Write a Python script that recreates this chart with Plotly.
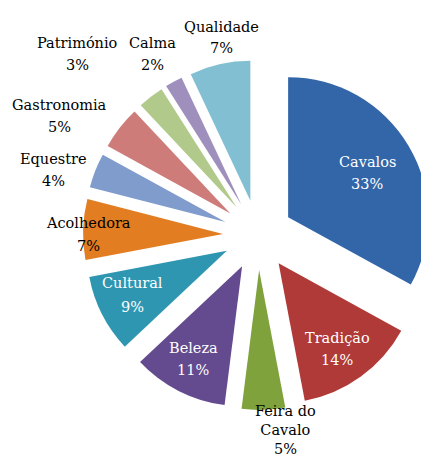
import plotly.graph_objects as go

labels = ["Cavalos", "Tradição", "Feira do<br>Cavalo", "Beleza", "Cultural",
          "Acolhedora", "Equestre", "Gastronomia", "Património", "Calma", "Qualidade"]
values = [33, 14, 5, 11, 9, 7, 4, 5, 3, 2, 7]
colors = ["#3366A8", "#B03A37", "#80A23C", "#644A8E", "#2F96B2",
          "#E27D22", "#809CCC", "#CE7C7A", "#B1CA8B", "#9E8FBD", "#82BFD3"]

# label placement: x centre, y of name line, y of percent line (pixels), text colour
label_x = [367, 337, 285, 193, 132, 88, 53, 60, 77, 152, 221]
name_y = [162, 338, 420, 348, 283, 223, 159, 105, 43, 43, 27]
pct_y = [184, 360, 449, 370, 307, 246, 181, 127, 65, 65, 48]
label_col = ["white", "white", "black", "white", "white",
             "black", "black", "black", "black", "black", "black"]

W, H = 433, 459   # page is 421 wide; the big slice runs past the right edge as in the original
FONT = "DejaVu Serif"
FS = 14.5

fig = go.Figure(go.Pie(
    labels=labels,
    values=values,
    sort=False,
    direction="clockwise",
    rotation=0,
    pull=0.25,
    marker=dict(colors=colors, line=dict(width=0)),
    textinfo="none",
    domain=dict(x=[0.1917, 1.0], y=[0.1068, 0.8693]),
    showlegend=False,
    hoverinfo="label+percent",
))

total = sum(values)
for lab, v, px, ny, py, col in zip(labels, values, label_x, name_y, pct_y, label_col):
    fig.add_annotation(
        x=px / W, y=1 - ny / H, xref="paper", yref="paper",
        text=lab, showarrow=False, xanchor="center", yanchor="middle",
        font=dict(family=FONT, size=FS, color=col),
    )
    fig.add_annotation(
        x=px / W, y=1 - py / H, xref="paper", yref="paper",
        text=f"{round(100 * v / total)}%", showarrow=False,
        xanchor="center", yanchor="middle",
        font=dict(family=FONT, size=FS, color=col),
    )

fig.update_layout(
    width=W, height=H,
    margin=dict(l=0, r=0, t=0, b=0),
    paper_bgcolor="white",
    plot_bgcolor="white",
    font=dict(family=FONT, size=FS, color="black"),
)

fig.write_html(
    "out.html",
    config={"displayModeBar": False},
    post_script=("document.body.style.margin='0';"
                 "document.body.style.overflow='hidden';"
                 "document.documentElement.style.overflow='hidden';"),
)
